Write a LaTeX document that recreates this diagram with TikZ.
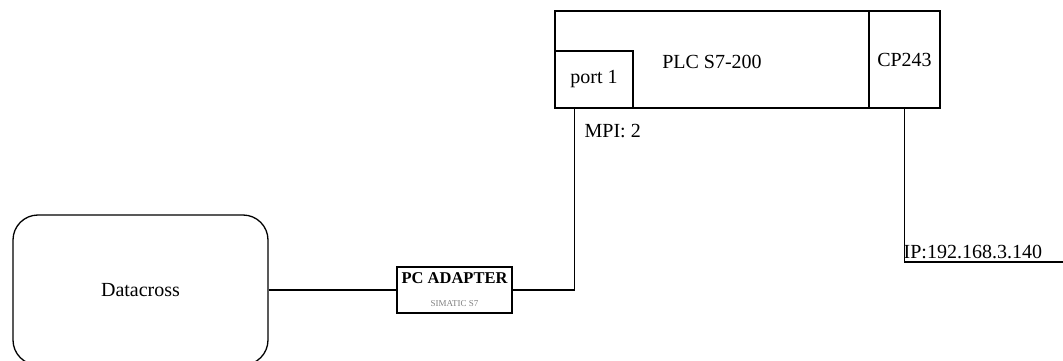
\documentclass[tikz,border=0pt]{standalone}
\usepackage{fontspec}
\setmainfont{Liberation Serif}
\begin{document}
\begin{tikzpicture}[x=1pt, y=-1pt, line width=1.3pt,
  box/.style={draw, rectangle, inner sep=0pt, font=\fontsize{20}{22}\selectfont},
  wire/.style={draw, line width=1.3pt},
  lbl/.style={inner sep=0pt, font=\fontsize{20}{22}\selectfont}]
  \useasboundingbox (0,0) rectangle (1063,361);

  % PC side
  \node[box, rounded corners=25pt, minimum width=255pt, minimum height=150pt] (datacross) at (140.5,290) {Datacross};
  \node[box, minimum width=115pt, minimum height=46pt, align=center] (adapter) at (454.5,290)
    {\fontsize{16.5}{18}\selectfont\bfseries PC ADAPTER\\[1pt]{\fontsize{9}{10}\selectfont\mdseries\color{gray}SIMATIC S7}};

  % PLC with its modules
  \node[box, minimum width=314pt, minimum height=97pt] (plc) at (712,59.5) {};
  \node[lbl] at (712,62) {PLC S7-200};
  \node[box, minimum width=71pt, minimum height=97pt] (cp) at (904.5,59.5) {CP243};
  \node[box, minimum width=78pt, minimum height=57pt] (port) at (594,79.5) {port 1};

  % connectors
  \coordinate (mpi) at ([xshift=20pt]port.south west);
  \coordinate (lan) at (1063,262);
  \draw[wire] (datacross.east) -- (adapter.west);
  \draw[wire] (adapter.east) -| (mpi);
  \draw[wire] (cp.south) |- (lan);

  % addresses
  \node[lbl, anchor=west] (mpiaddr) at (584,131) {MPI: 2};
  \node[lbl, anchor=south west] (ipaddr) at (903,259) {IP:192.168.3.140};
\end{tikzpicture}
\end{document}
